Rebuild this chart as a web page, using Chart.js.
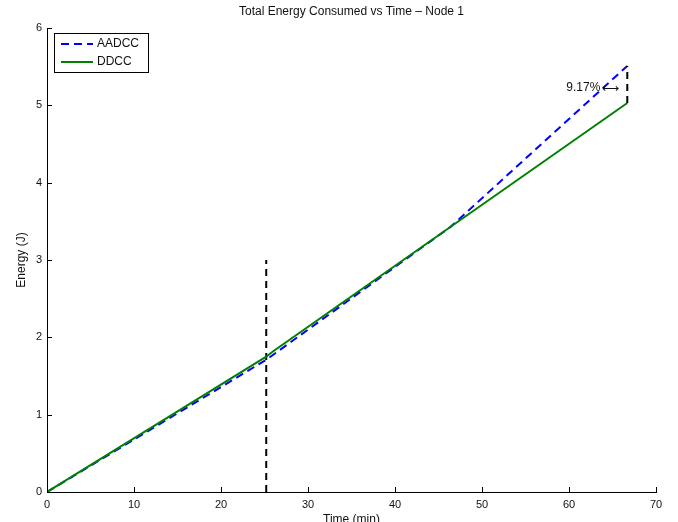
<html lang="en">
<head>
  <meta charset="UTF-8" />
  <title>Total Energy Consumed vs Time - Node 1</title>
  <script src="https://cdn.jsdelivr.net/npm/chart.js"></script>
  <style>
    body { margin: 0; background: #fff; }
    canvas { display: block; }
  </style>
</head>
<body>
  <canvas id="chart" width="678" height="522"></canvas>

  <script>
    // values
    const timeAADCC = [0, 25.2, 46.4, 66.7];
    const energyAADCC = [0, 1.71, 3.43, 5.51];
    const timeDDCC = [0, 25.2, 26, 46.4, 66.7];
    const energyDDCC = [0, 1.75, 1.82, 3.43, 5.03];
    // vertical dashed markers
    const switchTime = [25.2, 25.2];
    const switchEnergy = [0, 3.0];
    const gapTime = [66.7, 66.7];
    const gapEnergy = [5.03, 5.51];
    const gapLabel = '9.17%';
    const gapLabelAt = [63.6, 5.23];

    const FONT = '"Liberation Sans", Arial, sans-serif';

    const toPoints = (xs, ys) => xs.map((v, i) => ({ x: v, y: ys[i] }));

    const decor = {
      id: 'decor',
      afterDraw(chart) {
        const ctx = chart.ctx;
        const a = chart.chartArea;
        const x = chart.scales.x;
        const y = chart.scales.y;
        ctx.save();

        // inward tick marks
        ctx.strokeStyle = '#000';
        ctx.lineWidth = 1;
        x.ticks.forEach(t => {
          const px = Math.round(x.getPixelForValue(t.value)) + 0.5;
          ctx.beginPath();
          ctx.moveTo(px, a.bottom);
          ctx.lineTo(px, a.bottom - 5);
          ctx.stroke();
        });
        y.ticks.forEach(t => {
          const py = Math.round(y.getPixelForValue(t.value)) + 0.5;
          ctx.beginPath();
          ctx.moveTo(a.left, py);
          ctx.lineTo(a.left + 5, py);
          ctx.stroke();
        });

        // titles
        ctx.fillStyle = '#111';
        ctx.font = '12px ' + FONT;
        ctx.textAlign = 'center';
        ctx.textBaseline = 'middle';
        ctx.fillText('Total Energy Consumed vs Time \u2013 Node 1', (a.left + a.right) / 2, 12);
        ctx.fillText('Time (min)', (a.left + a.right) / 2, 520);
        ctx.save();
        ctx.translate(22, (a.top + a.bottom) / 2);
        ctx.rotate(-Math.PI / 2);
        ctx.fillText('Energy (J)', 0, 0);
        ctx.restore();

        // annotation
        const lx = x.getPixelForValue(gapLabelAt[0]);
        const ly = y.getPixelForValue(gapLabelAt[1]);
        ctx.textAlign = 'right';
        ctx.fillText(gapLabel, lx, ly);
        ctx.textAlign = 'left';
        ctx.fillText('\u27F7', lx + 2, ly + 1);

        // legend box
        const bx = 54.5, by = 33.5, bw = 94, bh = 39;
        ctx.fillStyle = '#fff';
        ctx.fillRect(bx, by, bw, bh);
        ctx.strokeStyle = '#000';
        ctx.lineWidth = 1;
        ctx.strokeRect(bx, by, bw, bh);
        chart.data.datasets.slice(0, 2).forEach((ds, i) => {
          const ry = 44 + i * 18;
          ctx.beginPath();
          ctx.strokeStyle = ds.borderColor;
          ctx.lineWidth = ds.borderWidth;
          ctx.setLineDash(ds.borderDash || []);
          ctx.moveTo(61, ry);
          ctx.lineTo(93, ry);
          ctx.stroke();
          ctx.setLineDash([]);
          ctx.fillStyle = '#111';
          ctx.textAlign = 'left';
          ctx.fillText(ds.label, 97, ry);
        });
        ctx.restore();
      }
    };

    new Chart(document.getElementById('chart'), {
      type: 'line',
      data: {
        datasets: [
          {
            label: 'AADCC',
            data: toPoints(timeAADCC, energyAADCC),
            borderColor: '#0000ff',
            borderWidth: 2,
            borderDash: [8, 5],
            order: 2
          },
          {
            label: 'DDCC',
            data: toPoints(timeDDCC, energyDDCC),
            borderColor: '#008000',
            borderWidth: 2,
            order: 1
          },
          {
            label: 'switch',
            data: toPoints(switchTime, switchEnergy),
            borderColor: '#000',
            borderWidth: 2,
            borderDash: [7, 5],
            order: 3
          },
          {
            label: 'gap',
            data: toPoints(gapTime, gapEnergy),
            borderColor: '#000',
            borderWidth: 2,
            borderDash: [7, 5],
            order: 0
          }
        ]
      },
      options: {
        responsive: false,
        animation: false,
        events: [],
        layout: { padding: { top: 28, right: 22, left: 0, bottom: 0 } },
        elements: { point: { radius: 0 }, line: { tension: 0 } },
        plugins: { legend: { display: false }, tooltip: { enabled: false } },
        scales: {
          x: {
            type: 'linear',
            min: 0,
            max: 70,
            ticks: { stepSize: 10, padding: 6, color: '#111', font: { size: 11, family: FONT } },
            grid: { drawOnChartArea: false, drawTicks: false },
            border: { color: '#000', width: 1 },
            afterFit: s => { s.height = 30; }
          },
          y: {
            min: 0,
            max: 6,
            ticks: { stepSize: 1, padding: 5, color: '#111', font: { size: 11, family: FONT } },
            grid: { drawOnChartArea: false, drawTicks: false },
            border: { color: '#000', width: 1 },
            afterFit: s => { s.width = 47; }
          }
        }
      },
      plugins: [decor]
    });
  </script>
</body>
</html>
